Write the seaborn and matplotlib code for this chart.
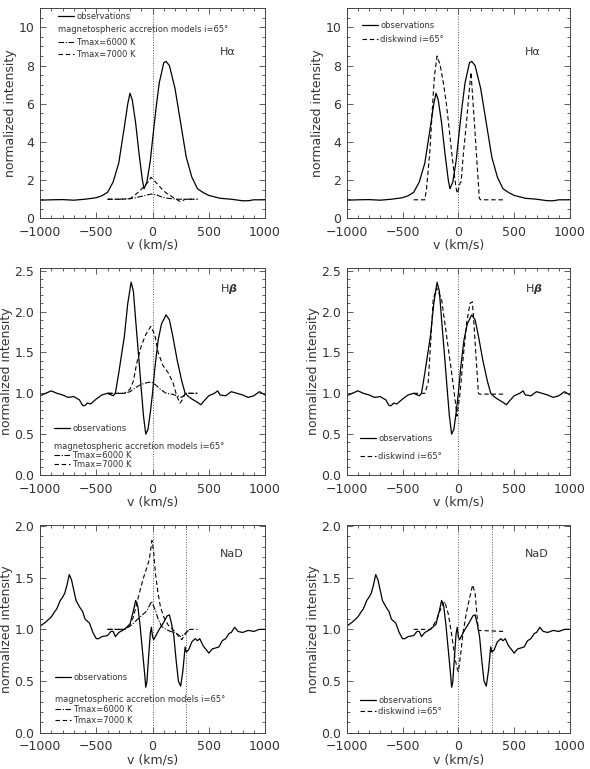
import numpy as np
import matplotlib
matplotlib.use("Agg")
import matplotlib.pyplot as plt
import seaborn as sns
import pandas as pd
from matplotlib.lines import Line2D
from matplotlib.ticker import MultipleLocator, FormatStrFormatter

# ---------------- data ----------------
# H-alpha observations
ha_obs_v = [-1000, -900, -800, -700, -600, -500, -450, -400, -350, -300, -250, -220, -200,
            -180, -150, -120, -90, -75, -50, -20, 0, 30, 60, 100, 120, 150, 200, 250,
            300, 350, 400, 450, 500, 600, 700, 800, 850, 900, 1000]
ha_obs_i = [0.95, 0.97, 0.98, 0.95, 1.0, 1.08, 1.18, 1.36, 1.9, 2.9, 4.8, 6.0, 6.55,
            6.2, 5.0, 3.4, 2.0, 1.55, 1.9, 3.0, 4.1, 5.7, 7.1, 8.15, 8.22, 8.0, 6.8, 5.0,
            3.2, 2.15, 1.55, 1.35, 1.2, 1.05, 1.0, 0.92, 0.92, 0.97, 0.97]
# H-alpha magnetospheric accretion models
ha_m6_v = [-400, -300, -200, -150, -100, -50, -13, 30, 60, 96, 150, 200, 244, 290, 400]
ha_m6_i = [1.0, 1.0, 1.03, 1.08, 1.15, 1.22, 1.27, 1.24, 1.17, 1.09, 1.04, 1.01, 1.0, 1.0, 1.0]
ha_m7_v = [-400, -300, -200, -160, -111, -70, -40, -13, 20, 50, 96, 140, 185, 220, 244, 270, 290, 400]
ha_m7_i = [1.0, 1.0, 1.02, 1.2, 1.45, 1.7, 1.9, 2.15, 1.95, 1.75, 1.45, 1.25, 1.09, 0.97, 0.88, 0.93, 1.0, 1.0]
# H-alpha disk wind
ha_dw_v = [-400, -300, -284, -254, -233, -215, -191, -164, -134, -104, -75, -45, -21, -9,
           5, 15, 25, 45, 75, 90, 113, 134, 164, 188, 200, 400]
ha_dw_i = [0.97, 0.97, 1.6, 3.6, 5.7, 7.4, 8.5, 8.06, 7.09, 5.86, 4.27, 2.68, 1.62, 1.3,
           1.6, 1.85, 1.9, 3.39, 5.15, 6.2, 7.65, 5.86, 3.2, 1.05, 0.97, 0.97]

# H-beta observations
hb_obs_v = [-1000, -950, -900, -850, -800, -750, -700, -650, -620, -600, -580, -550, -500,
            -450, -400, -350, -330, -300, -250, -220, -190, -170, -150, -120, -100, -80,
            -60, -40, -20, 0, 20, 50, 80, 120, 150, 180, 220, 260, 290, 320, 350, 400,
            430, 460, 500, 550, 580, 600, 650, 700, 750, 800, 850, 900, 950, 1000]
hb_obs_i = [0.97, 1.0, 1.03, 1.0, 0.98, 0.95, 0.96, 0.92, 0.85, 0.85, 0.88, 0.87, 0.93,
            0.98, 1.0, 0.97, 1.0, 1.25, 1.7, 2.1, 2.36, 2.25, 1.9, 1.4, 1.05, 0.72,
            0.5, 0.56, 0.76, 1.0, 1.3, 1.65, 1.85, 1.96, 1.9, 1.7, 1.4, 1.15, 1.0, 0.96,
            0.93, 0.89, 0.86, 0.91, 0.97, 1.0, 1.03, 0.98, 0.97, 1.02, 1.0, 0.98, 0.95,
            0.97, 1.02, 0.98]
hb_m6_v = [-400, -250, -200, -150, -100, -50, -10, 30, 70, 120, 170, 220, 260, 300, 400]
hb_m6_i = [1.0, 1.0, 1.02, 1.07, 1.11, 1.13, 1.14, 1.1, 1.05, 1.0, 0.99, 0.97, 0.95, 1.0, 1.0]
hb_m7_v = [-400, -250, -200, -170, -140, -100, -60, -15, 20, 50, 93, 140, 182, 215, 244, 270, 290, 400]
hb_m7_i = [1.0, 1.0, 1.05, 1.15, 1.37, 1.58, 1.72, 1.82, 1.72, 1.5, 1.34, 1.25, 1.13, 0.97, 0.88, 0.93, 1.0, 1.0]
hb_dw_v = [-400, -300, -270, -255, -225, -195, -150, -105, -60, -30, -12, 15, 45, 75,
           105, 125, 135, 158, 180, 190, 400]
hb_dw_i = [1.0, 1.0, 1.13, 1.46, 2.15, 2.29, 2.15, 1.7, 1.25, 0.93, 0.72, 1.0, 1.46, 1.87,
           2.1, 2.12, 1.95, 1.46, 1.0, 0.99, 0.99]

# Na D observations
nad_obs_v = [-1000, -950, -900, -870, -850, -820, -800, -780, -760, -740, -720, -700, -680,
             -650, -620, -600, -560, -530, -500, -480, -450, -400, -370, -350, -330, -300,
             -250, -200, -170, -150, -130, -110, -90, -70, -60, -50, -35, -20, -10, 0,
             10, 30, 60, 100, 130, 150, 170, 190, 210, 230, 250, 270, 290, 300, 320, 350,
             380, 400, 420, 450, 480, 500, 530, 560, 590, 620, 650, 680, 700, 730, 760,
             800, 850, 900, 950, 1000]
nad_obs_i = [1.03, 1.07, 1.12, 1.17, 1.2, 1.28, 1.31, 1.35, 1.43, 1.53, 1.48, 1.38, 1.28,
             1.22, 1.17, 1.1, 1.06, 0.97, 0.91, 0.91, 0.93, 0.94, 0.98, 0.98, 0.93, 0.97,
             1.0, 1.05, 1.18, 1.28, 1.22, 1.03, 0.8, 0.57, 0.44, 0.49, 0.73, 0.96, 1.02, 0.93,
             0.9, 0.94, 1.0, 1.07, 1.13, 1.14, 1.05, 0.93, 0.7, 0.5, 0.45, 0.6, 0.83, 0.78,
             0.8, 0.88, 0.91, 0.89, 0.91, 0.84, 0.8, 0.77, 0.81, 0.82, 0.83, 0.89, 0.91,
             0.96, 0.97, 1.02, 0.98, 0.97, 0.99, 0.98, 1.0, 1.0]
nad_m6_v = [-400, -250, -200, -150, -100, -50, -10, 20, 50, 80, 120, 160, 200, 250, 280, 300, 330]
nad_m6_i = [1.0, 1.0, 1.03, 1.08, 1.13, 1.18, 1.27, 1.2, 1.1, 1.03, 1.0, 0.98, 0.97, 0.93, 0.95, 0.97, 1.0]
nad_m7_v = [-400, -250, -200, -170, -140, -110, -80, -50, -30, -15, -5, 10, 25, 45, 70,
            100, 140, 180, 220, 260, 290, 320, 400]
nad_m7_i = [1.0, 1.0, 1.05, 1.12, 1.25, 1.38, 1.5, 1.6, 1.67, 1.78, 1.86, 1.75, 1.55, 1.38,
            1.22, 1.12, 1.04, 1.0, 0.95, 0.9, 0.95, 1.0, 1.0]
nad_dw_v = [-400, -250, -200, -150, -122, -90, -60, -30, -10, 0, 20, 40, 70, 100, 128,
            150, 170, 180, 400]
nad_dw_i = [1.0, 1.0, 1.08, 1.22, 1.27, 1.15, 0.95, 0.72, 0.62, 0.59, 0.75, 0.95, 1.15,
            1.3, 1.43, 1.35, 1.1, 0.99, 0.98]

lines_name = ["H\u03b1", "H$\\boldsymbol{\\beta}$", "NaD"]
ylims = [(0, 11), (0, 2.53), (0, 2.01)]
ymajor = [2, 0.5, 0.5]
yminor = [0.5, 0.1, 0.1]
vlines = [[0], [0], [0, 300]]

obs = [(ha_obs_v, ha_obs_i), (hb_obs_v, hb_obs_i), (nad_obs_v, nad_obs_i)]
mod6 = [(ha_m6_v, ha_m6_i), (hb_m6_v, hb_m6_i), (nad_m6_v, nad_m6_i)]
mod7 = [(ha_m7_v, ha_m7_i), (hb_m7_v, hb_m7_i), (nad_m7_v, nad_m7_i)]
disk = [(ha_dw_v, ha_dw_i), (hb_dw_v, hb_dw_i), (nad_dw_v, nad_dw_i)]

# legend placement per panel: (loc, anchor, labelspacing, blank row after "observations")
leg_cfg = {
    (0, 0): ('upper left', (0.053, 1.01), 0.45, False),
    (0, 1): ('upper left', (0.042, 0.967), 0.55, False),
    (1, 0): ('lower left', (0.036, 0.0), 0.0, True),
    (1, 1): ('lower left', (0.033, 0.041), 0.0, True),
    (2, 0): ('lower left', (0.04, 0.009), 0.2, True),
    (2, 1): ('lower left', (0.033, 0.051), 0.3, False),
}
name_y = {0: 0.79, 1: 0.9, 2: 0.86}

# ---------------- figure ----------------
sns.set_style("ticks")
plt.rcParams['font.family'] = ['DejaVu Sans']
plt.rcParams['mathtext.fontset'] = 'dejavusans'
tc = '#333333'

fig = plt.figure(figsize=(5.9, 7.69), dpi=100)
lefts = [0.0678, 0.5876]
widths = [0.3814, 0.3785]
bottoms = [0.7161, 0.3823, 0.0472]
heights = [0.2731, 0.2688, 0.2701]

dashdot = (0, (5, 1.5, 1, 1.5))
dashed = (0, (4, 2.5))


def draw_line(ax, v, i, ls, lw=0.9):
    df = pd.DataFrame({'v': v, 'I': i})
    sns.lineplot(data=df, x='v', y='I', ax=ax, color='k', linestyle=ls, lw=lw,
                 sort=False, estimator=None)
    return ax.lines[-1]


for r in range(3):
    for c in range(2):
        ax = fig.add_axes([lefts[c], bottoms[r], widths[c], heights[r]])
        for xv in vlines[r]:
            ax.axvline(xv, color='#555555', ls=':', lw=0.7)
        h_obs = draw_line(ax, *obs[r], '-')
        blank = Line2D([], [], color='none')
        loc, anchor, lsp, gap = leg_cfg[(r, c)]
        if c == 0:
            h6 = draw_line(ax, *mod6[r], dashdot, lw=0.8)
            h7 = draw_line(ax, *mod7[r], dashed, lw=0.8)
            handles = [h_obs, blank, h6, h7]
            labels = ['observations', 'magnetospheric accretion models i=65\u00b0',
                      'Tmax=6000 K', 'Tmax=7000 K']
        else:
            hd = draw_line(ax, *disk[r], dashed, lw=0.8)
            handles = [h_obs, hd]
            labels = ['observations', 'diskwind i=65\u00b0']
        if gap:
            handles = handles[:1] + [blank] + handles[1:]
            labels = labels[:1] + [' '] + labels[1:]
        leg = ax.legend(handles, labels, loc=loc, bbox_to_anchor=anchor, frameon=False,
                        fontsize=6, handlelength=1.9, handletextpad=0.3,
                        labelspacing=lsp, borderaxespad=0.3)
        for t, lab in zip(leg.get_texts(), labels):
            t.set_color(tc)
            # the header row of the model legend starts at the left edge
            if lab.startswith('magneto'):
                t.set_position((-18, 0))

        ax.text(0.8, name_y[r], lines_name[r], transform=ax.transAxes,
                fontsize=8, color=tc, ha='left', va='center')

        ax.set_xlim(-1000, 1000)
        ax.set_ylim(*ylims[r])
        ax.xaxis.set_major_locator(MultipleLocator(500))
        ax.xaxis.set_minor_locator(MultipleLocator(100))
        ax.yaxis.set_major_locator(MultipleLocator(ymajor[r]))
        ax.yaxis.set_minor_locator(MultipleLocator(yminor[r]))
        if r == 0:
            ax.set_yticks([0, 2, 4, 6, 8, 10])
        else:
            ax.yaxis.set_major_formatter(FormatStrFormatter('%.1f'))
        ax.tick_params(which='both', direction='in', top=True, right=True,
                       labelsize=9, colors='#444444', labelcolor=tc, width=0.6)
        ax.tick_params(which='major', length=4)
        ax.tick_params(which='minor', length=2)
        ax.tick_params(axis='x', pad=5.5)
        ax.tick_params(axis='y', pad=4)
        for s in ax.spines.values():
            s.set_linewidth(0.7)
            s.set_color('#444444')
        ax.set_xlabel('v (km/s)', fontsize=9, color=tc, labelpad=0)
        ax.set_ylabel('normalized intensity', fontsize=9, color=tc, labelpad=1)

fig.savefig('out.png', dpi=100)
